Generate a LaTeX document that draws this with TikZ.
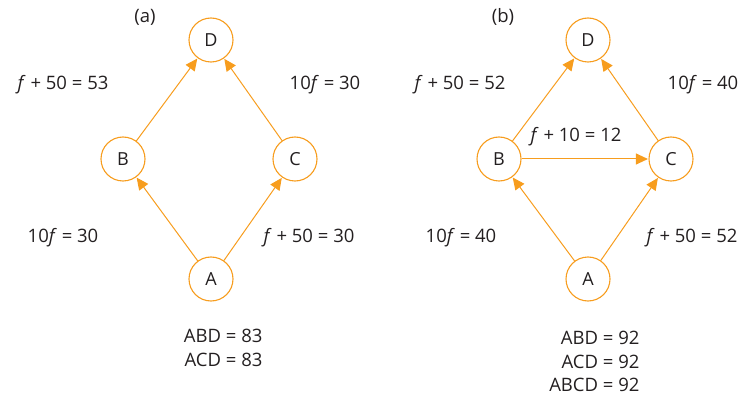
\documentclass[tikz,border=0pt]{standalone}
\usepackage{fontspec}
\setmainfont{Open Sans}
\usepackage{tikz}
\usetikzlibrary{positioning,arrows.meta}
\definecolor{naranja}{RGB}{247,157,30}
\definecolor{textogris}{RGB}{35,31,32}

\begin{document}
\begin{tikzpicture}[x=1pt, y=-1pt,
  nodo/.style={circle, draw=naranja, line width=1.1pt, fill=white,
    minimum size=44pt, inner sep=0pt, font=\fontsize{18}{20}\selectfont,
    text=textogris},
  arista/.style={-{Triangle[length=12pt, width=11pt]}, draw=naranja,
    line width=1pt, shorten >=0.5pt},
  peso/.style={font=\fontsize{18.5}{20}\selectfont, text=textogris},
  total/.style={font=\fontsize{18.5}{23.5}\selectfont, text=textogris,
    align=right, anchor=north east},
]
  \useasboundingbox (0,0) rectangle (745,401);
  % Red (a)
  \node[peso] (ta) at (145,17) {(a)};
  \node[nodo] (aD) at (211,40) {D};
  \node[nodo] (aB) at (123,159) {B};
  \node[nodo] (aC) at (295,159) {C};
  \node[nodo] (aA) at (211,279) {A};
  \draw[arista] (aB) -- (aD);
  \draw[arista] (aC) -- (aD);
  \draw[arista] (aA) -- (aB);
  \draw[arista] (aA) -- (aC);
  \node[peso] (aBD) at (63,85) {\textit{f} + 50 = 53};
  \node[peso] (aCD) at (325,85) {10\textit{f} = 30};
  \node[peso] (aAB) at (63,238) {10\textit{f} = 30};
  \node[peso] (aAC) at (309,238) {\textit{f} + 50 = 30};
  \node[total] (atot) at (266,326) {ABD = 83\\ACD = 83};
  % Red (b)
  \node[peso] (tb) at (503,17) {(b)};
  \node[nodo] (bD) at (588,40) {D};
  \node[nodo] (bB) at (499,159) {B};
  \node[nodo] (bC) at (671,159) {C};
  \node[nodo] (bA) at (588,279) {A};
  \draw[arista] (bB) -- (bD);
  \draw[arista] (bC) -- (bD);
  \draw[arista] (bA) -- (bB);
  \draw[arista] (bA) -- (bC);
  \draw[arista] (bB) -- (bC);
  \node[peso] (bBD) at (460,85) {\textit{f} + 50 = 52};
  \node[peso] (bCD) at (703,85) {10\textit{f} = 40};
  \node[peso] (bBC) at (576,137) {\textit{f} + 10 = 12};
  \node[peso] (bAB) at (461,238) {10\textit{f} = 40};
  \node[peso] (bAC) at (692,238) {\textit{f} + 50 = 52};
  \node[total] (btot) at (643,328) {ABD = 92\\ACD = 92\\ABCD = 92};
\end{tikzpicture}
\end{document}
